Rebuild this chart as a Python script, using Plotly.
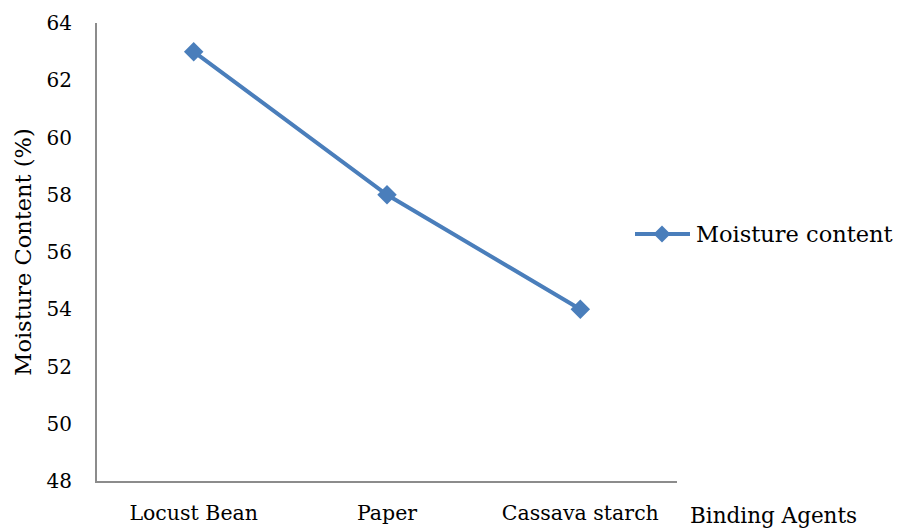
import plotly.graph_objects as go

# Moisture content of briquettes by binding agent
binding_agents = ["Locust Bean", "Paper", "Cassava starch"]
moisture_content = [63, 58, 54]
y_ticks = [48, 50, 52, 54, 56, 58, 60, 62, 64]
series_name = "Moisture content"

FONT = "DejaVu Serif, Palatino Linotype, Book Antiqua, serif"
BLUE = "#4a7ebb"
AXIS = "#8c8c8c"

# plot-area geometry in pixels
W, H = 899, 528
L, R, T, B = 97, 222, 23, 47
PW, PH = W - L - R, H - T - B


def px_x(x):
    return (x - L) / PW


def px_y(y):
    return (H - B - y) / PH


fig = go.Figure()
fig.add_trace(go.Scatter(
    x=binding_agents,
    y=moisture_content,
    mode="lines+markers",
    name=series_name,
    line=dict(color=BLUE, width=4),
    marker=dict(symbol="diamond", size=15, color=BLUE),
    showlegend=False,
))

# legend key drawn beside the plot: line sample, diamond and label
key_y = px_y(234)
shapes = [
    dict(type="line", xref="paper", yref="paper",
         x0=px_x(635), x1=px_x(690), y0=key_y, y1=key_y,
         line=dict(color=BLUE, width=4)),
    dict(type="path", xref="paper", yref="paper",
         xsizemode="pixel", ysizemode="pixel",
         xanchor=px_x(662), yanchor=key_y,
         path="M0,8.5 L8.5,0 L0,-8.5 L-8.5,0 Z",
         fillcolor=BLUE, line=dict(color=BLUE, width=0)),
]

fig.update_layout(
    width=W,
    height=H,
    margin=dict(l=L, r=R, t=T, b=B),
    paper_bgcolor="white",
    plot_bgcolor="white",
    font=dict(family=FONT, size=20, color="black"),
    showlegend=False,
    shapes=shapes,
    xaxis=dict(
        type="category",
        range=[-0.5, 2.5],
        automargin=False,
        showline=True, linecolor=AXIS, linewidth=2,
        showgrid=False, zeroline=False,
        ticks="outside", ticklen=12, tickcolor="rgba(0,0,0,0)",
        tickfont=dict(family=FONT, size=20.5),
    ),
    yaxis=dict(
        range=[48, 64],
        tickvals=y_ticks,
        automargin=False,
        showline=True, linecolor=AXIS, linewidth=2,
        showgrid=False, zeroline=False,
        ticks="outside", ticklen=19, tickcolor="rgba(0,0,0,0)",
        tickfont=dict(family=FONT, size=20),
        title=dict(text="Moisture Content (%)", font=dict(family=FONT, size=22.5), standoff=9),
    ),
    annotations=[
        dict(
            text=series_name,
            xref="paper", yref="paper",
            x=px_x(694), y=key_y, xanchor="left", yanchor="middle",
            showarrow=False,
            font=dict(family=FONT, size=22.5, color="black"),
        ),
        dict(
            text="Binding Agents",
            xref="paper", yref="paper",
            x=px_x(688), y=px_y(515), xanchor="left", yanchor="middle",
            showarrow=False,
            font=dict(family=FONT, size=21.5, color="black"),
        ),
    ],
)

fig.write_html("out.html")
